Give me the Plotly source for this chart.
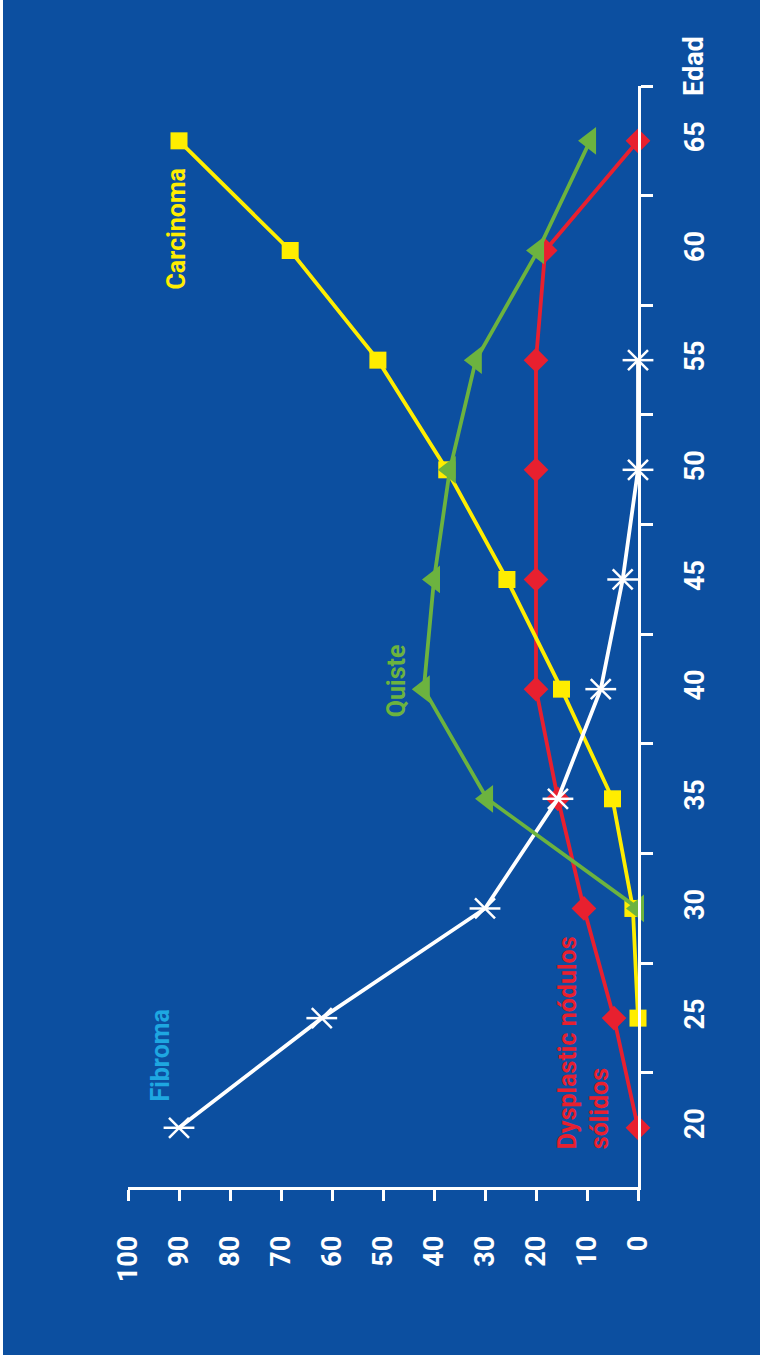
import plotly.graph_objects as go

# Data (age groups on vertical axis, percentage on horizontal axis)
ages = [20, 25, 30, 35, 40, 45, 50, 55, 60, 65]
fibroma_ages = [20, 25, 30, 35, 40, 45, 50, 55]
fibroma = [90, 62, 30, 15.7, 7.3, 3, 0, 0]
carcinoma_ages = [25, 30, 35, 40, 45, 50, 55, 60, 65]
carcinoma = [0, 1, 5, 15, 25.7, 37.5, 51, 68.2, 90]
quiste_ages = [30, 35, 40, 45, 50, 55, 60, 65]
quiste = [0, 29.6, 42, 40, 36.9, 31.8, 19.6, 9.4]
dysplastic = [0, 4.7, 10.6, 15.7, 20, 20, 20, 20, 18.2, 0]
value_ticks = [0, 10, 20, 30, 40, 50, 60, 70, 80, 90, 100]
age_minor_ticks = [22.5, 27.5, 32.5, 37.5, 42.5, 47.5, 52.5, 57.5, 62.5, 67.5]

BG = "#0C4FA0"
YELLOW = "#FFED00"
GREEN = "#6CB33F"
RED = "#E8202F"
LIGHTBLUE = "#1EA7E1"
WHITE = "#FFFFFF"
FONT = "Roboto"
LW = 3.8

fig = go.Figure()

fig.add_trace(go.Scatter(x=dysplastic, y=ages, mode="lines+markers",
                         line=dict(color=RED, width=LW),
                         marker=dict(symbol="diamond", size=19, color=RED),
                         cliponaxis=False, showlegend=False))
fig.add_trace(go.Scatter(x=carcinoma, y=carcinoma_ages, mode="lines+markers",
                         line=dict(color=YELLOW, width=LW),
                         marker=dict(symbol="square", size=17, color=YELLOW),
                         cliponaxis=False, showlegend=False))
fig.add_trace(go.Scatter(x=fibroma, y=fibroma_ages, mode="lines+markers",
                         line=dict(color=WHITE, width=LW),
                         marker=dict(symbol="x-thin-open", size=20, color=WHITE,
                                     line=dict(color=WHITE, width=2.5)),
                         cliponaxis=False, showlegend=False))
fig.add_trace(go.Scatter(x=fibroma, y=fibroma_ages, mode="markers",
                         marker=dict(symbol="line-ew-open", size=22, color=WHITE,
                                     line=dict(color=WHITE, width=2.5)),
                         cliponaxis=False, showlegend=False))
fig.add_trace(go.Scatter(x=quiste, y=quiste_ages, mode="lines+markers",
                         line=dict(color=GREEN, width=LW),
                         marker=dict(symbol="triangle-left", size=24, color=GREEN),
                         cliponaxis=False, showlegend=False))

fig.update_xaxes(range=[100, 0], tickvals=value_ticks, ticktext=[str(v) for v in value_ticks],
                 tickangle=-90, ticks="outside", ticklen=11, tickwidth=3, tickcolor=WHITE,
                 showline=True, linecolor=WHITE, linewidth=3, showgrid=False, zeroline=False,
                 ticklabelstandoff=24,
                 tickfont=dict(family=FONT, size=27, color=WHITE, weight="bold"))
fig.update_yaxes(range=[17.3, 67.5], side="right", tickvals=ages, ticktext=[str(a) for a in ages],
                 tickangle=-90, ticks="outside", ticklen=12, tickcolor="rgba(0,0,0,0)",
                 minor=dict(tickvals=age_minor_ticks, ticks="outside", ticklen=12, tickwidth=3,
                            tickcolor=WHITE, showgrid=False),
                 showline=True, linecolor=WHITE, linewidth=3, showgrid=False, zeroline=False,
                 ticklabelstandoff=19,
                 tickfont=dict(family=FONT, size=27, color=WHITE, weight="bold"))

def lab(text, x, y, color, align="center"):
    fig.add_annotation(x=x, y=y, xref="x", yref="y", text=text, showarrow=False,
                       textangle=-90, align=align, xanchor="center", yanchor="middle",
                       font=dict(family=FONT, size=25, color=color, weight="bold"))

lab("Carcinoma", 90.4, 61.0, YELLOW)
lab("Quiste", 47.3, 40.4, GREEN)
lab("Fibroma", 93.7, 23.3, LIGHTBLUE)
lab("Dysplastic nódulos<br>sólidos", 10.6, 23.9, RED, align="left")

fig.add_annotation(xref="paper", yref="paper", x=(694 - 128) / 510, y=(1187 - 66) / 1101,
                   xanchor="center", yanchor="middle",
                   text="Edad", showarrow=False, textangle=-90,
                   font=dict(family=FONT, size=27, color=WHITE, weight="bold"))

# white page edges
fig.add_shape(type="rect", xref="paper", yref="paper", x0=-0.26, x1=-128 / 510 + 3 / 510,
              y0=-0.2, y1=1.2, fillcolor=WHITE, line=dict(width=0), layer="below")
fig.add_shape(type="rect", xref="paper", yref="paper", x0=-0.3, x1=1.3,
              y0=-(1362 - 1187) / 1101 - 0.01, y1=-(1355 - 1187) / 1101,
              fillcolor=WHITE, line=dict(width=0), layer="below")

fig.update_layout(width=760, height=1362, margin=dict(l=128, r=122, t=86, b=175),
                  paper_bgcolor=BG, plot_bgcolor=BG, showlegend=False)

fig.write_html("out.html")
